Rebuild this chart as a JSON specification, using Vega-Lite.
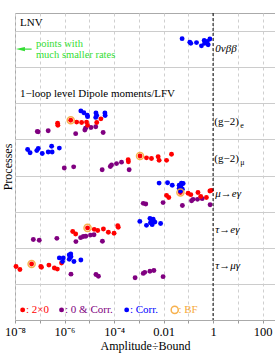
{
"$schema": "https://vega.github.io/schema/vega-lite/v6.json",
"width": 260, "height": 307,
"autosize": {"type": "none"},
"padding": {"left": 15, "top": 13, "right": 0, "bottom": 35},
"config": {"view": {"stroke": "#aaaaaa", "strokeWidth": 1}, "font": "Liberation Serif"},
"encoding": {
"x": {"field": "x", "type": "quantitative",
 "scale": {"type": "log", "domain": [1e-8, 316.2278], "nice": false},
 "axis": {"title": "Amplitude÷Bound", "values": [1e-8,1e-7,1e-6,1e-5,1e-4,1e-3,1e-2,1e-1,1,10,100],
  "grid": true, "gridDash": [3,3], "gridColor": "#cfcfcf", "gridWidth": 1,
  "labelExpr": "round(log(datum.value)/LN10)==-8?'10⁻⁸':round(log(datum.value)/LN10)==-6?'10⁻⁶':round(log(datum.value)/LN10)==-4?'10⁻⁴':round(log(datum.value)/LN10)==-2?'0.01':round(log(datum.value)/LN10)==0?'1':round(log(datum.value)/LN10)==2?'100':''",
  "domain": false, "ticks": true, "tickSize": 3, "tickColor": "#999999",
  "labelFont": "Liberation Serif", "labelFontSize": 12.5, "labelColor": "black", "labelPadding": 2, "labelFlush": false, "labelOverlap": false,
  "titleFont": "Liberation Serif", "titleFontSize": 12, "titleFontWeight": "normal", "titleColor": "black", "titlePadding": 3}},
"y": {"field": "y", "type": "quantitative",
 "scale": {"domain": [0, 8.5], "nice": false, "zero": false},
 "axis": {"title": "Processes", "values": [1,2,3,4,5,6,7,8], "grid": true, "gridColor": "#cccccc", "gridWidth": 1,
  "labels": false, "ticks": false, "domain": false,
  "titleFont": "Liberation Serif", "titleFontSize": 12, "titleFontWeight": "normal", "titleColor": "black", "titlePadding": 1}}
},
"datasets": {
"pts": [
{"x":7.94e-8,"y":5.22,"t":"0 & Corr."},{"x":8.71e-8,"y":5.21,"t":"0 & Corr."},{"x":2.19e-7,"y":5.24,"t":"0 & Corr."},{"x":2.82e-6,"y":5.16,"t":"0 & Corr."},{"x":7.08e-6,"y":5.31,"t":"0 & Corr."},{"x":6.61e-6,"y":5.26,"t":"0 & Corr."},{"x":1.17e-5,"y":5.33,"t":"0 & Corr."},{"x":1.82e-5,"y":5.35,"t":"0 & Corr."},{"x":3.63e-5,"y":5.19,"t":"0 & Corr."},
{"x":9.77e-7,"y":4.21,"t":"0 & Corr."},{"x":2.34e-6,"y":4.24,"t":"0 & Corr."},{"x":3.31e-5,"y":4.16,"t":"0 & Corr."},{"x":7.08e-5,"y":4.25,"t":"0 & Corr."},{"x":7.94e-5,"y":4.29,"t":"0 & Corr."},{"x":1.26e-4,"y":4.33,"t":"0 & Corr."},{"x":2.0e-4,"y":4.37,"t":"0 & Corr."},{"x":4.07e-4,"y":4.16,"t":"0 & Corr."},
{"x":1.51e-3,"y":3.23,"t":"0 & Corr."},{"x":1.91e-3,"y":3.21,"t":"0 & Corr."},{"x":9.55e-3,"y":3.25,"t":"0 & Corr."},{"x":5.75e-2,"y":3.17,"t":"0 & Corr."},{"x":0.135,"y":3.30,"t":"0 & Corr."},{"x":0.155,"y":3.34,"t":"0 & Corr."},{"x":0.234,"y":3.34,"t":"0 & Corr."},{"x":0.363,"y":3.36,"t":"0 & Corr."},{"x":0.759,"y":3.19,"t":"0 & Corr."},
{"x":5.5e-8,"y":2.23,"t":"0 & Corr."},{"x":9.55e-8,"y":2.21,"t":"0 & Corr."},{"x":4.9e-7,"y":2.26,"t":"0 & Corr."},{"x":2.88e-6,"y":2.17,"t":"0 & Corr."},{"x":4.47e-6,"y":2.28,"t":"0 & Corr."},{"x":5.75e-6,"y":2.31,"t":"0 & Corr."},{"x":7.24e-6,"y":2.32,"t":"0 & Corr."},{"x":1.12e-5,"y":2.35,"t":"0 & Corr."},{"x":1.55e-5,"y":2.36,"t":"0 & Corr."},{"x":3.39e-5,"y":2.18,"t":"0 & Corr."},
{"x":1.82e-6,"y":1.27,"t":"0 & Corr."},{"x":1.86e-5,"y":1.26,"t":"0 & Corr."},{"x":2.34e-5,"y":1.21,"t":"0 & Corr."},{"x":7.08e-4,"y":1.17,"t":"0 & Corr."},{"x":1.51e-3,"y":1.29,"t":"0 & Corr."},{"x":1.74e-3,"y":1.32,"t":"0 & Corr."},{"x":2.82e-3,"y":1.35,"t":"0 & Corr."},{"x":4.07e-3,"y":1.37,"t":"0 & Corr."},{"x":9.55e-3,"y":1.20,"t":"0 & Corr."},
{"x":5.25e-7,"y":5.45,"t":"2×0"},{"x":5.37e-7,"y":5.39,"t":"2×0"},{"x":1.78e-6,"y":5.53,"t":"2×0","bf":1},{"x":3.09e-6,"y":5.48,"t":"2×0"},{"x":4.9e-6,"y":5.47,"t":"2×0"},{"x":7.76e-6,"y":5.48,"t":"2×0"},{"x":8.51e-6,"y":5.39,"t":"2×0"},{"x":2.0e-5,"y":5.47,"t":"2×0"},{"x":2.95e-5,"y":5.57,"t":"2×0"},
{"x":3.72e-4,"y":4.44,"t":"2×0"},{"x":3.8e-4,"y":4.38,"t":"2×0"},{"x":1.12e-3,"y":4.54,"t":"2×0","bf":1},{"x":2.04e-3,"y":4.49,"t":"2×0"},{"x":3.24e-3,"y":4.47,"t":"2×0"},{"x":6.03e-3,"y":4.52,"t":"2×0"},{"x":6.61e-3,"y":4.42,"t":"2×0"},{"x":1.32e-2,"y":4.42,"t":"2×0"},{"x":2.09e-2,"y":4.59,"t":"2×0"},
{"x":4.79e-2,"y":3.53,"t":"2×0","bf":1},{"x":1.32e-2,"y":3.45,"t":"2×0"},{"x":1.62e-2,"y":3.39,"t":"2×0"},{"x":9.77e-2,"y":3.51,"t":"2×0"},{"x":0.126,"y":3.47,"t":"2×0"},{"x":0.245,"y":3.53,"t":"2×0"},{"x":0.316,"y":3.42,"t":"2×0"},{"x":0.537,"y":3.39,"t":"2×0"},{"x":0.741,"y":3.57,"t":"2×0"},{"x":0.851,"y":3.59,"t":"2×0"},
{"x":2.14e-6,"y":2.45,"t":"2×0"},{"x":2.82e-6,"y":2.38,"t":"2×0"},{"x":8.51e-6,"y":2.55,"t":"2×0","bf":1},{"x":1.58e-5,"y":2.51,"t":"2×0"},{"x":2.19e-5,"y":2.48,"t":"2×0"},{"x":3.72e-5,"y":2.52,"t":"2×0"},{"x":5.89e-5,"y":2.43,"t":"2×0"},{"x":1.0e-4,"y":2.40,"t":"2×0"},{"x":1.48e-4,"y":2.57,"t":"2×0"},{"x":1.41e-4,"y":2.61,"t":"2×0"},
{"x":1.1e-8,"y":1.48,"t":"2×0"},{"x":1.58e-8,"y":1.40,"t":"2×0"},{"x":4.68e-8,"y":1.55,"t":"2×0","bf":1},{"x":1.1e-7,"y":1.48,"t":"2×0"},{"x":1.17e-7,"y":1.46,"t":"2×0"},{"x":2.34e-7,"y":1.52,"t":"2×0"},{"x":3.89e-7,"y":1.44,"t":"2×0"},{"x":5.13e-7,"y":1.41,"t":"2×0"},{"x":7.59e-7,"y":1.58,"t":"2×0"},
{"x":0.056,"y":7.79,"t":"Corr."},{"x":0.115,"y":7.69,"t":"Corr."},{"x":0.126,"y":7.66,"t":"Corr."},{"x":0.214,"y":7.68,"t":"Corr."},{"x":0.339,"y":7.59,"t":"Corr."},{"x":0.437,"y":7.74,"t":"Corr."},{"x":0.457,"y":7.66,"t":"Corr."},{"x":0.575,"y":7.71,"t":"Corr."},{"x":0.631,"y":7.62,"t":"Corr."},{"x":0.741,"y":7.78,"t":"Corr."},
{"x":4.57e-6,"y":5.79,"t":"Corr."},{"x":6.03e-6,"y":5.74,"t":"Corr."},{"x":8.32e-6,"y":5.67,"t":"Corr."},{"x":8.51e-6,"y":5.63,"t":"Corr."},{"x":1.86e-5,"y":5.73,"t":"Corr."},{"x":2.0e-5,"y":5.66,"t":"Corr."},{"x":1.82e-5,"y":5.61,"t":"Corr."},{"x":4.27e-5,"y":5.73,"t":"Corr."},{"x":4.37e-5,"y":5.66,"t":"Corr."},
{"x":3.24e-8,"y":4.72,"t":"Corr."},{"x":4.07e-8,"y":4.63,"t":"Corr."},{"x":7.59e-8,"y":4.69,"t":"Corr."},{"x":8.71e-8,"y":4.75,"t":"Corr."},{"x":1.26e-7,"y":4.61,"t":"Corr."},{"x":2.19e-7,"y":4.65,"t":"Corr."},{"x":3.02e-7,"y":4.81,"t":"Corr."},{"x":3.16e-7,"y":4.65,"t":"Corr."},{"x":6.17e-7,"y":4.76,"t":"Corr."},
{"x":6.61e-3,"y":3.79,"t":"Corr."},{"x":1.45e-2,"y":3.80,"t":"Corr."},{"x":2.24e-2,"y":3.73,"t":"Corr."},{"x":4.27e-2,"y":3.73,"t":"Corr."},{"x":5.25e-2,"y":3.79,"t":"Corr."},{"x":6.17e-2,"y":3.78,"t":"Corr."},{"x":4.27e-2,"y":3.64,"t":"Corr."},{"x":5.75e-2,"y":3.62,"t":"Corr."},{"x":4.79e-2,"y":3.57,"t":"Corr."},{"x":5.01e-2,"y":3.71,"t":"Corr."},
{"x":1.1e-3,"y":2.73,"t":"Corr."},{"x":2.04e-3,"y":2.62,"t":"Corr."},{"x":2.82e-3,"y":2.81,"t":"Corr."},{"x":3.24e-3,"y":2.73,"t":"Corr."},{"x":3.8e-3,"y":2.79,"t":"Corr."},{"x":3.47e-3,"y":2.64,"t":"Corr."},{"x":4.47e-3,"y":2.71,"t":"Corr."},{"x":7.59e-3,"y":2.67,"t":"Corr."},{"x":2.95e-3,"y":2.69,"t":"Corr."},
{"x":6.17e-7,"y":1.72,"t":"Corr."},{"x":8.91e-7,"y":1.72,"t":"Corr."},{"x":8.32e-7,"y":1.62,"t":"Corr."},{"x":1.55e-6,"y":1.80,"t":"Corr."},{"x":1.78e-6,"y":1.83,"t":"Corr."},{"x":1.82e-6,"y":1.75,"t":"Corr."},{"x":1.55e-6,"y":1.68,"t":"Corr."},{"x":2.4e-6,"y":1.62,"t":"Corr."},{"x":4.57e-6,"y":1.66,"t":"Corr."}
],
"legdots": [
{"x":2.04e-8,"y":0.28,"t":"2×0"},
{"x":7.59e-7,"y":0.28,"t":"0 & Corr."},
{"x":3.24e-4,"y":0.28,"t":"Corr."}
],
"legtext": [
{"x":2.75e-8,"y":0.28,"t":"2×0","label":": 2×0"},
{"x":1.05e-6,"y":0.28,"t":"0 & Corr.","label":": 0 & Corr."},
{"x":4.37e-4,"y":0.28,"t":"Corr.","label":": Corr."}
]
},
"layer": [
{
"data": {"name": "pts"},
"mark": {"type": "point", "filled": true, "shape": "circle", "size": 24, "opacity": 1},
"encoding": {
"color": {"field": "t", "type": "nominal", "scale": {"domain": ["2×0","0 & Corr.","Corr."], "range": ["#ff0000","#800080","#0000ff"]}, "legend": null}
}
},
{
"data": {"name": "pts"},
"transform": [{"filter": "datum.bf == 1"}],
"mark": {"type": "point", "filled": false, "shape": "circle", "size": 50, "stroke": "#f7a93b", "strokeWidth": 1.5, "opacity": 0.9},
"encoding": {}
},
{
"data": {"values": [{"x": 1}]},
"mark": {"type": "rule", "color": "black", "strokeWidth": 1, "strokeDash": [3,2]},
"encoding": {"y": null}
},
{
"data": {"values": [
 {"x":1.12,"y":7.5,"label":"0νββ"},
 {"x":1.12,"y":3.5,"label":"μ→eγ"},
 {"x":1.12,"y":2.5,"label":"τ→eγ"},
 {"x":1.12,"y":1.5,"label":"τ→μγ"}
]},
"mark": {"type": "text", "align": "left", "baseline": "middle", "fontSize": 11, "fontStyle": "italic", "font": "Liberation Serif", "color": "black", "dx": 1},
"encoding": {"text": {"field": "label"}}
},
{
"data": {"values": [
 {"x":1.12,"y":5.47,"label":"(g−2)"},
 {"x":1.12,"y":4.47,"label":"(g−2)"}
]},
"mark": {"type": "text", "align": "left", "baseline": "middle", "fontSize": 11, "font": "Liberation Serif", "color": "black"},
"encoding": {"text": {"field": "label"}}
},
{
"data": {"values": [
 {"x":1.12,"y":5.47,"label":"e"},
 {"x":1.12,"y":4.47,"label":"μ"}
]},
"mark": {"type": "text", "align": "left", "baseline": "middle", "fontSize": 8, "font": "Liberation Serif", "color": "black", "dx": 26, "dy": 4},
"encoding": {"text": {"field": "label"}}
},
{
"data": {"values": [
 {"x":1.6e-8,"y":8.23,"label":"LNV"},
 {"x":1.6e-8,"y":6.26,"label":"1−loop level Dipole moments/LFV"}
]},
"mark": {"type": "text", "align": "left", "baseline": "middle", "fontSize": 11, "font": "Liberation Serif", "color": "black"},
"encoding": {"text": {"field": "label"}}
},
{
"data": {"values": [
 {"x":7.0e-8,"y":7.65,"label":"points with"},
 {"x":7.0e-8,"y":7.35,"label":"much smaller rates"}
]},
"mark": {"type": "text", "align": "left", "baseline": "middle", "fontSize": 10.5, "font": "Liberation Serif", "color": "#33dd33"},
"encoding": {"text": {"field": "label"}}
},
{
"data": {"values": [{"x": 4.7e-8, "x2": 1.9e-8, "y": 7.5}]},
"mark": {"type": "rule", "color": "#33dd33", "strokeWidth": 1.2},
"encoding": {"x2": {"field": "x2"}}
},
{
"data": {"values": [{"x": 1.66e-8, "y": 7.5}]},
"mark": {"type": "point", "filled": true, "shape": "M-1,0L1,-0.45L1,0.45Z", "size": 81, "color": "#33dd33", "opacity": 1},
"encoding": {}
},
{
"data": {"name": "legdots"},
"mark": {"type": "point", "filled": true, "shape": "circle", "size": 24, "opacity": 1},
"encoding": {"color": {"field": "t", "type": "nominal", "legend": null}}
},
{
"data": {"name": "legtext"},
"mark": {"type": "text", "align": "left", "baseline": "middle", "fontSize": 11, "font": "Liberation Serif"},
"encoding": {"text": {"field": "label"}, "color": {"field": "t", "type": "nominal", "legend": null}}
},
{
"data": {"values": [{"x": 2.82e-2, "y": 0.28}]},
"mark": {"type": "point", "filled": false, "shape": "circle", "size": 50, "stroke": "#f7a93b", "strokeWidth": 1.5, "opacity": 0.9},
"encoding": {}
},
{
"data": {"values": [{"x": 3.98e-2, "y": 0.28, "label": ": BF"}]},
"mark": {"type": "text", "align": "left", "baseline": "middle", "fontSize": 11, "font": "Liberation Serif", "color": "#f7a93b"},
"encoding": {"text": {"field": "label"}}
}
]
}
